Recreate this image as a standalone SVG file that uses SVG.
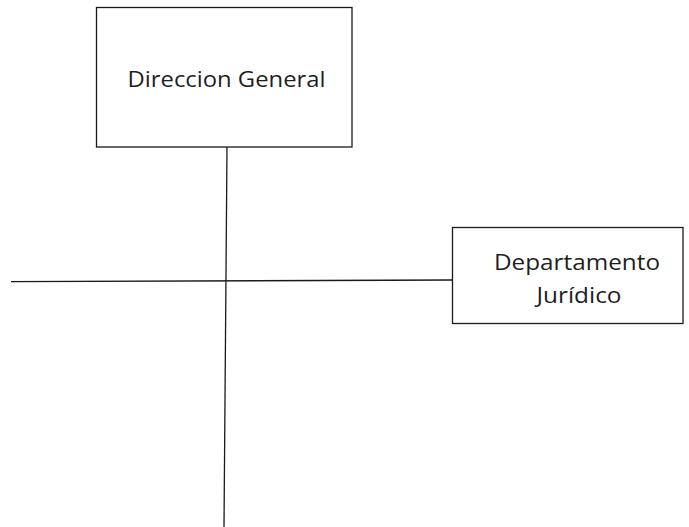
<svg xmlns="http://www.w3.org/2000/svg" width="689" height="527" viewBox="0 0 689 527">
  <style>
    .box { fill: #ffffff; stroke: #1a1a1a; stroke-width: 1.3; }
    .line { stroke: #1a1a1a; stroke-width: 1.3; fill: none; }
    .label { font-family: "Open Sans", "Liberation Sans", sans-serif; font-size: 21px; fill: #1e1e1e; text-anchor: middle; }
  </style>
  <rect width="689" height="527" fill="#ffffff"/>
  <g id="connectors">
    <line class="line" x1="227" y1="147" x2="224" y2="527"/>
    <line class="line" x1="11" y1="281.7" x2="452.5" y2="280"/>
  </g>
  <g id="direccion-general">
    <rect class="box" x="96.5" y="7.5" width="255.5" height="139.5"/>
    <text class="label" x="226.5" y="87" textLength="198" lengthAdjust="spacingAndGlyphs">Direccion General</text>
  </g>
  <g id="departamento-juridico">
    <rect class="box" x="452.5" y="227.5" width="230.5" height="96"/>
    <text class="label" x="577" y="270" textLength="166" lengthAdjust="spacingAndGlyphs">Departamento</text>
    <text class="label" x="579" y="303" textLength="85" lengthAdjust="spacingAndGlyphs">Jurídico</text>
  </g>
</svg>
